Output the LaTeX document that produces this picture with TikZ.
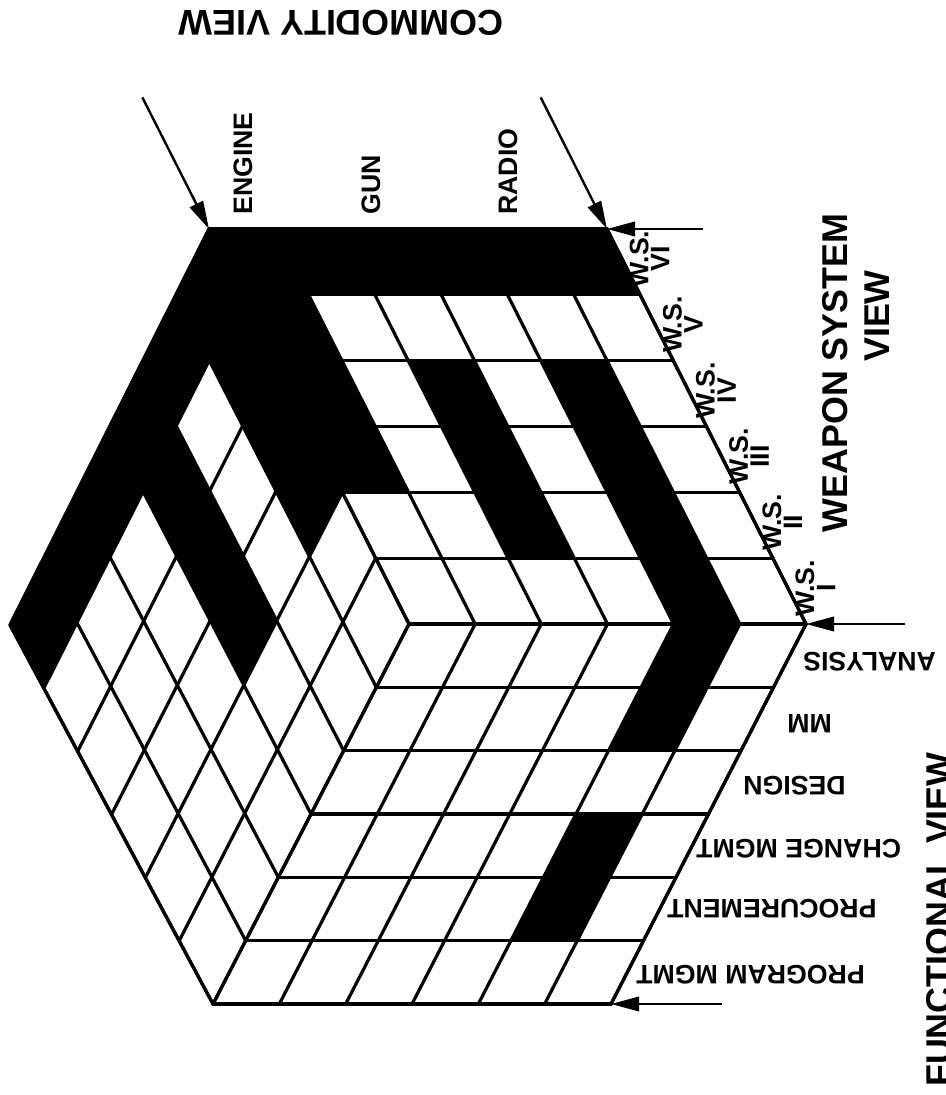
\documentclass[tikz,border=0pt]{standalone}
\usepackage{fontspec}
\setmainfont{Liberation Sans}
\usetikzlibrary{arrows.meta, calc}

\begin{document}
\begin{tikzpicture}[
        x=0.25mm, y=-0.25mm,
        gridline/.style={line width=0.8mm, line cap=round, line join=round},
        filled/.style={fill=black},
        viewarrow/.style={-{Triangle[length=7mm, width=3.6mm]}, line width=0.6mm},
        viewtitle/.style={font=\fontsize{25.5}{26}\selectfont\bfseries, inner sep=0pt},
        tagtext/.style={font=\fontsize{19}{15}\selectfont\bfseries, inner sep=0pt}
    ]
    \useasboundingbox (0,0) rectangle (946,1095);

    % hexagon corners
    \coordinate (T1) at (209,229);
    \coordinate (T2) at (607,229);
    \coordinate (R) at (806,624);
    \coordinate (B2) at (611,1004);
    \coordinate (B1) at (213,1004);
    \coordinate (L) at (10,625);
    \coordinate (C) at (409,624);

    % grid points of the three faces
    \foreach \i in {0,...,6}
      \foreach \j in {0,...,6} {
        \coordinate (t\i\j) at ($($(T1)!\i/6!(T2)$)!\j/6!($(C)!\i/6!(R)$)$);
        \coordinate (l\i\j) at ($($(T1)!\i/6!(C)$)!\j/6!($(L)!\i/6!(B1)$)$);
        \coordinate (b\i\j) at ($($(C)!\i/6!(R)$)!\j/6!($(B1)!\i/6!(B2)$)$);
      }

    % black cells
    \foreach \i/\j in {0/0,1/0,2/0,3/0,4/0,5/0,0/1,0/2,0/3,2/2,2/3,2/4,4/2,4/3,4/4,4/5} {
      \pgfmathtruncatemacro\ii{\i+1}
      \pgfmathtruncatemacro\jj{\j+1}
      \fill[filled] (t\i\j) -- (t\ii\j) -- (t\ii\jj) -- (t\i\jj) -- cycle;
    }
    \foreach \i/\j in {0/0,0/1,0/2,0/3,0/4,0/5,1/0,2/0,3/0,1/2,2/2,3/2} {
      \pgfmathtruncatemacro\ii{\i+1}
      \pgfmathtruncatemacro\jj{\j+1}
      \fill[filled] (l\i\j) -- (l\ii\j) -- (l\ii\jj) -- (l\i\jj) -- cycle;
    }
    \foreach \i/\j in {4/0,4/1,4/3,4/4} {
      \pgfmathtruncatemacro\ii{\i+1}
      \pgfmathtruncatemacro\jj{\j+1}
      \fill[filled] (b\i\j) -- (b\ii\j) -- (b\ii\jj) -- (b\i\jj) -- cycle;
    }

    % grid lines
    \foreach \k in {0,...,6} {
      \draw[gridline] (t\k0) -- (t\k6);
      \draw[gridline] (t0\k) -- (t6\k);
      \draw[gridline] (l\k0) -- (l\k6);
      \draw[gridline] (l0\k) -- (l6\k);
      \draw[gridline] (b\k0) -- (b\k6);
      \draw[gridline] (b0\k) -- (b6\k);
    }
    \draw[gridline] (T1) -- (T2) -- (R) -- (B2) -- (B1) -- (L) -- cycle;

    % view arrows
    \coordinate (cv1) at ($(T1)!-2/6!(C)$);
    \coordinate (cv2) at ($(T2)!-2/6!(R)$);
    \coordinate (ws6) at (703,229);
    \coordinate (ws1) at (905,624);
    \coordinate (fv) at (722,1004);
    \draw[viewarrow] (cv1) -- (T1);
    \draw[viewarrow] (cv2) -- (T2);
    \draw[viewarrow] (ws6) -- (T2);
    \draw[viewarrow] (ws1) -- (R);
    \draw[viewarrow] (fv) -- (B2);

    % commodities
    \node[tagtext, rotate=90, anchor=west] (engine) at (243,215) {ENGINE};
    \node[tagtext, rotate=90, anchor=west] (gun) at (371,215) {GUN};
    \node[tagtext, rotate=90, anchor=west] (radio) at (508,215) {RADIO};

    % weapon systems
    \foreach \n/\r in {1/I,2/II,3/III,4/IV,5/V,6/VI}
      \node[tagtext, rotate=90, align=center] (ws\n) at ($($(T2)!13/12-\n/6!(R)$)+(26,-3)$) {W.S.\\\r};

    % functions
    \node[tagtext, rotate=180, anchor=east] (analysis) at (803,662) {ANALYSIS};
    \node[tagtext, rotate=180, anchor=east] (mm) at (787,724) {MM};
    \node[tagtext, rotate=180, anchor=east] (design) at (743,786) {DESIGN};
    \node[tagtext, rotate=180, anchor=east] (change) at (696,849) {CHANGE MGMT};
    \node[tagtext, rotate=180, anchor=east] (procure) at (667,909) {PROCUREMENT};
    \node[tagtext, rotate=180, anchor=east] (program) at (636,975) {PROGRAM MGMT};

    % view titles
    \node[viewtitle, rotate=180] (comview) at (341,23) {COMMODITY VIEW};
    \node[viewtitle, rotate=90] (wsview) at (835,373) {WEAPON SYSTEM};
    \node[viewtitle, rotate=90] (wsview2) at (877,316) {VIEW};
    \node[viewtitle, rotate=90, anchor=base east] (funview) at (951,752) {FUNCTIONAL VIEW};
\end{tikzpicture}
\end{document}
